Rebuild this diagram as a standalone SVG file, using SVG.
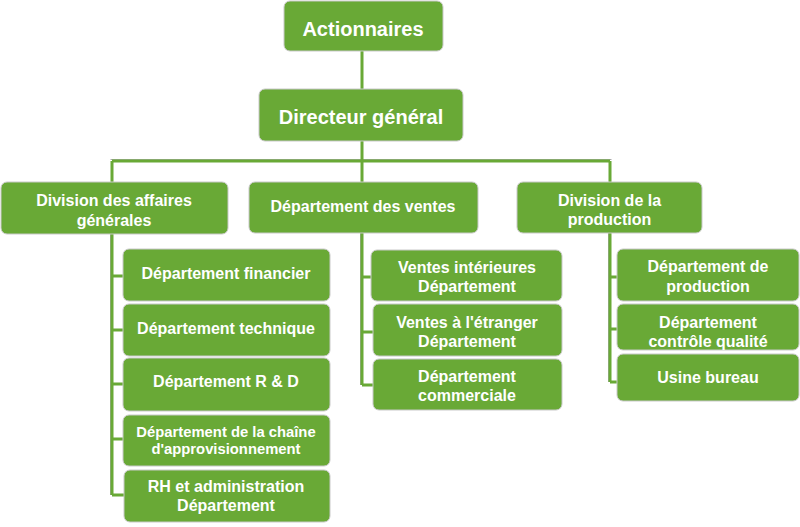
<svg xmlns="http://www.w3.org/2000/svg" width="800" height="527" viewBox="0 0 800 527">
<style>
.box{fill:#69a936;stroke:#c9c9c9;stroke-width:1}
.t{font-family:"Liberation Sans",Arial,sans-serif;font-weight:bold;fill:#ffffff;text-anchor:middle;font-size:16px}
.big{font-size:20px}
.sm{font-size:14.8px}
.ln{stroke:#69a936;stroke-width:3;fill:none}
.sh{stroke:#a8a8a8;stroke-width:1;fill:none}
</style>
<rect width="800" height="527" fill="#ffffff"/>
<g id="connectors">
<path class="sh" d="M110.5 234V495 M110.5 159.5H611.5 M360.5 233V385 M608.5 233V382"/>
<path class="ln" d="M362 51V89 M362 141V161 M112 161H610 M112 161V182 M362 161V182 M610 161V182"/>
<path class="ln" d="M112 234V495 M112 276H123 M112 330H123 M112 384H123 M112 439H123 M112 495H124"/>
<path class="ln" d="M362 233V385 M362 277H372 M362 332H373 M362 385H373"/>
<path class="ln" d="M610 233V382 M610 277H617 M610 329H617 M610 382H617"/>
</g>
<g id="actionnaires"><rect class="box" x="284" y="1" width="159" height="50" rx="6"/><text class="t big" x="363" y="36">Actionnaires</text></g>
<g id="directeur"><rect class="box" x="259" y="89" width="204" height="52" rx="6"/><text class="t big" x="361" y="124">Directeur général</text></g>
<g id="div-affaires"><rect class="box" x="1" y="182" width="227" height="52" rx="6"/><text class="t" x="114" y="205.5">Division des affaires</text><text class="t" x="114" y="225.5">générales</text></g>
<g id="dep-ventes"><rect class="box" x="249" y="182" width="229" height="51" rx="6"/><text class="t" x="363" y="212">Département des ventes</text></g>
<g id="div-production"><rect class="box" x="517" y="182" width="185" height="51" rx="6"/><text class="t" x="609.5" y="206">Division de la</text><text class="t" x="609.5" y="225">production</text></g>
<g id="dep-financier"><rect class="box" x="123" y="249" width="207" height="52" rx="6"/><text class="t" x="226" y="279">Département financier</text></g>
<g id="dep-technique"><rect class="box" x="123" y="304" width="207" height="52" rx="6"/><text class="t" x="226" y="334">Département technique</text></g>
<g id="dep-rd"><rect class="box" x="123" y="358" width="207" height="53" rx="6"/><text class="t" x="226" y="387">Département R &amp; D</text></g>
<g id="dep-chaine"><rect class="box" x="123" y="415" width="207" height="51" rx="6"/><text class="t sm" x="226" y="437">Département de la chaîne</text><text class="t sm" x="226" y="454">d'approvisionnement</text></g>
<g id="dep-rh"><rect class="box" x="124" y="470" width="206" height="52" rx="6"/><text class="t" x="226" y="492">RH et administration</text><text class="t" x="226" y="511">Département</text></g>
<g id="ventes-int"><rect class="box" x="371" y="250" width="191" height="51" rx="6"/><text class="t" x="467" y="273">Ventes intérieures</text><text class="t" x="467" y="292">Département</text></g>
<g id="ventes-etr"><rect class="box" x="373" y="304" width="189" height="52" rx="6"/><text class="t" x="467" y="328">Ventes à l'étranger</text><text class="t" x="467" y="347">Département</text></g>
<g id="dep-commercial"><rect class="box" x="373" y="359" width="189" height="51" rx="6"/><text class="t" x="467" y="382">Département</text><text class="t" x="467" y="401">commerciale</text></g>
<g id="dep-production"><rect class="box" x="617" y="249" width="182" height="52" rx="6"/><text class="t" x="708" y="272">Département de</text><text class="t" x="708" y="292">production</text></g>
<g id="dep-qualite"><rect class="box" x="617" y="304" width="182" height="46" rx="6"/><text class="t" x="708" y="328">Département</text><text class="t" x="708" y="347">contrôle qualité</text></g>
<g id="usine"><rect class="box" x="617" y="354" width="182" height="47" rx="6"/><text class="t" x="708" y="383">Usine bureau</text></g>
</svg>
